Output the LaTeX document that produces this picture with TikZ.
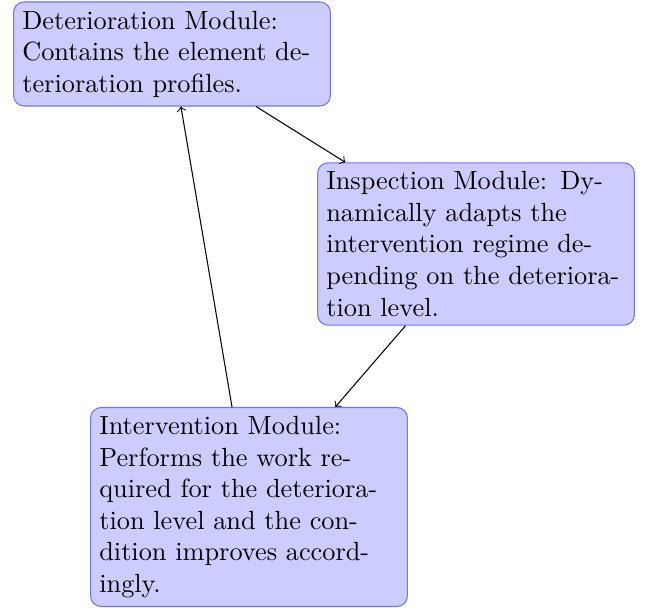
\documentclass[tikz,border=0pt]{standalone}
\begin{document}
\begin{tikzpicture}[x=0.3802pt,y=-0.3802pt,
  module/.style={rectangle,rounded corners,draw=blue!55,fill=blue!20,text width=4cm,align=left,inner sep=3.33pt},
  conn/.style={->}]
\useasboundingbox (0,0) rectangle (645,607);
\node[module] (det) at (172,54) {Deterioration Module:\\Contains the element de-\\terioration profiles.};
\node[module] (insp) at (476,244) {Inspection Module: Dy-\\namically adapts the\\intervention regime de-\\pending on the deteriora-\\tion level.};
\node[module] (int) at (249,507) {Intervention Module:\\Performs the work re-\\quired for the deteriora-\\tion level and the con-\\dition improves accord-\\ingly.};
\draw[conn] (det) -- (insp);
\draw[conn] (insp) -- (int);
\draw[conn] (int) -- (det);
\end{tikzpicture}
\end{document}
